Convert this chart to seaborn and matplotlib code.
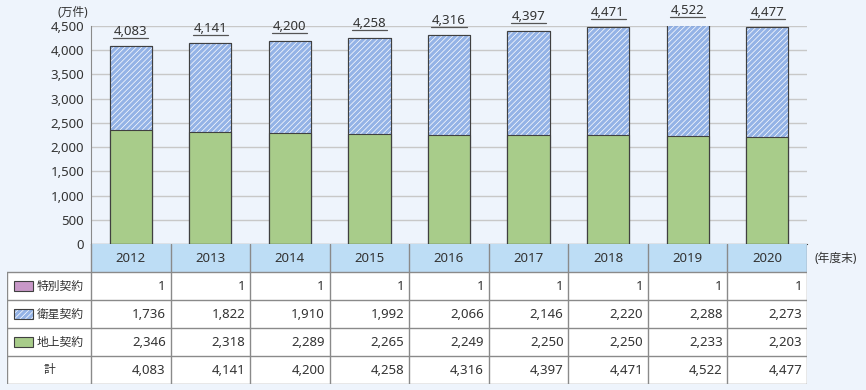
import numpy as np
import pandas as pd
import matplotlib
matplotlib.use("Agg")
import matplotlib.pyplot as plt
import seaborn as sns
from matplotlib.patches import Rectangle

# data (万件, 年度末)
years = ["2012", "2013", "2014", "2015", "2016", "2017", "2018", "2019", "2020"]
special = [1, 1, 1, 1, 1, 1, 1, 1, 1]
satellite = [1736, 1822, 1910, 1992, 2066, 2146, 2220, 2288, 2273]
ground = [2346, 2318, 2289, 2265, 2249, 2250, 2250, 2233, 2203]
total = [4083, 4141, 4200, 4258, 4316, 4397, 4471, 4522, 4477]
row_labels = ["特別契約", "衛星契約", "地上契約", "計"]
y_ticks = [0, 500, 1000, 1500, 2000, 2500, 3000, 3500, 4000, 4500]

BG = "#EEF4FC"
PURPLE = "#C898C8"
BLUE = "#94B3E6"
GREEN = "#A8CC8A"
HEAD = "#BDDDF5"
EDGE = "#404040"
LINE = "#8A8A8A"
TXT = "#333333"
FS = 9.5
FS_JP = 8.5
HATCH = "//////"

sns.set_style("white")
plt.rcParams["font.family"] = ["Noto Sans", "Noto Sans CJK JP", "DejaVu Sans"]
plt.rcParams["hatch.linewidth"] = 0.5

df = pd.DataFrame({"year": years, "special": special,
                   "satellite": satellite, "ground": ground, "total": total})
df["top_sat"] = df["ground"] + df["satellite"]
df["top_all"] = df["top_sat"] + df["special"]

fig = plt.figure(figsize=(8.66, 3.9), dpi=100, facecolor=BG)
ax = fig.add_axes([91 / 866, 146 / 390, 716 / 866, 218 / 390])
ax.set_facecolor(BG)

# stacked bars, drawn from the top layer down
bw = 0.53
sns.barplot(data=df, x="year", y="top_all", color=PURPLE, saturation=1,
            width=bw, errorbar=None, edgecolor=EDGE, linewidth=0.8, ax=ax)
n0 = len(ax.patches)
sns.barplot(data=df, x="year", y="top_sat", color=BLUE, saturation=1,
            width=bw, errorbar=None, edgecolor="white", linewidth=0,
            hatch=HATCH, ax=ax)
sat_patches = ax.patches[n0:]
sns.barplot(data=df, x="year", y="ground", color=GREEN, saturation=1,
            width=bw, errorbar=None, edgecolor=EDGE, linewidth=0.8, ax=ax)
for p in sat_patches:
    ax.add_patch(Rectangle(p.get_xy(), p.get_width(), p.get_height(),
                           fill=False, edgecolor=EDGE, lw=0.8, zorder=3))

# totals above bars, underlined
for i, t in enumerate(total):
    ax.text(i, t + 165, f"{t:,}", ha="center", va="bottom", fontsize=FS,
            color=TXT, clip_on=False)
    ax.plot([i - 0.22, i + 0.22], [t + 165, t + 165], color="#555555",
            lw=0.9, clip_on=False)

ax.set_ylim(0, 4500)
ax.set_xlim(-0.5, len(years) - 0.5)
ax.set_yticks(y_ticks)
ax.set_yticklabels([f"{v:,}" for v in y_ticks], fontsize=FS, color=TXT)
ax.set_xticks([])
ax.set_xticks(np.arange(len(years) + 1) - 0.5, minor=True)
ax.tick_params(axis="x", which="minor", direction="in", length=5,
               color=LINE, width=1)
ax.tick_params(axis="y", length=0, pad=5)
ax.set_xlabel("")
ax.set_ylabel("")
ax.yaxis.grid(True, color="#C8C8C8", lw=1)
ax.set_axisbelow(True)
for s in ["top", "right"]:
    ax.spines[s].set_visible(False)
ax.spines["left"].set_color(LINE)
ax.spines["bottom"].set_color(EDGE)
fig.text(88 / 866, 1 - 12 / 390, "(万件)", ha="right", va="center",
         fontsize=FS_JP, color=TXT)

# data table under the chart
left = -0.5 - 84 / 79.6
tax = fig.add_axes([7 / 866, 6 / 390, 800 / 866, 140 / 390])
tax.set_xlim(left, len(years) - 0.5)
tax.set_ylim(5, 0)
tax.axis("off")
for i, yr in enumerate(years):
    tax.add_patch(Rectangle((i - 0.5, 0), 1, 1, facecolor=HEAD, edgecolor="none"))
    tax.text(i, 0.5, yr, ha="center", va="center", fontsize=FS, color=TXT)
tax.add_patch(Rectangle((left, 1), len(years) - 0.5 - left, 4,
                        facecolor="white", edgecolor="none"))
rows = [special, satellite, ground, total]
for r, vals in enumerate(rows):
    for i, v in enumerate(vals):
        tax.text(i + 0.44, r + 1.5, f"{v:,}", ha="right", va="center",
                 fontsize=FS, color=TXT)
sw_x = left + 7 / 79.6
sw_w = 19 / 79.6
swatch = [dict(facecolor=PURPLE), dict(facecolor=BLUE, hatch=HATCH),
          dict(facecolor=GREEN)]
for r, lab in enumerate(row_labels):
    if r < 3:
        st = swatch[r]
        if "hatch" in st:
            tax.add_patch(Rectangle((sw_x, r + 1.33), sw_w, 0.34,
                                    edgecolor="white", lw=0, **st))
            tax.add_patch(Rectangle((sw_x, r + 1.33), sw_w, 0.34,
                                    fill=False, edgecolor=EDGE, lw=0.8))
        else:
            tax.add_patch(Rectangle((sw_x, r + 1.33), sw_w, 0.34,
                                    edgecolor=EDGE, lw=0.8, **st))
        tax.text(sw_x + sw_w + 4 / 79.6, r + 1.5, lab, ha="left", va="center",
                 fontsize=FS_JP, color=TXT)
    else:
        tax.text((left - 0.5) / 2, r + 1.5, lab, ha="center", va="center",
                 fontsize=FS_JP, color=TXT)
for k in range(len(years) + 1):
    tax.plot([k - 0.5, k - 0.5], [0, 5], color=LINE, lw=1)
tax.plot([left, left], [1, 5], color=LINE, lw=1)
for r in range(1, 6):
    tax.plot([left, len(years) - 0.5], [r, r], color=LINE, lw=1)
tax.text(len(years) - 0.5 + 8 / 79.6, 0.5, "(年度末)", ha="left", va="center",
         fontsize=FS_JP, color=TXT, clip_on=False)

fig.savefig("out.png", dpi=100, facecolor=BG)
